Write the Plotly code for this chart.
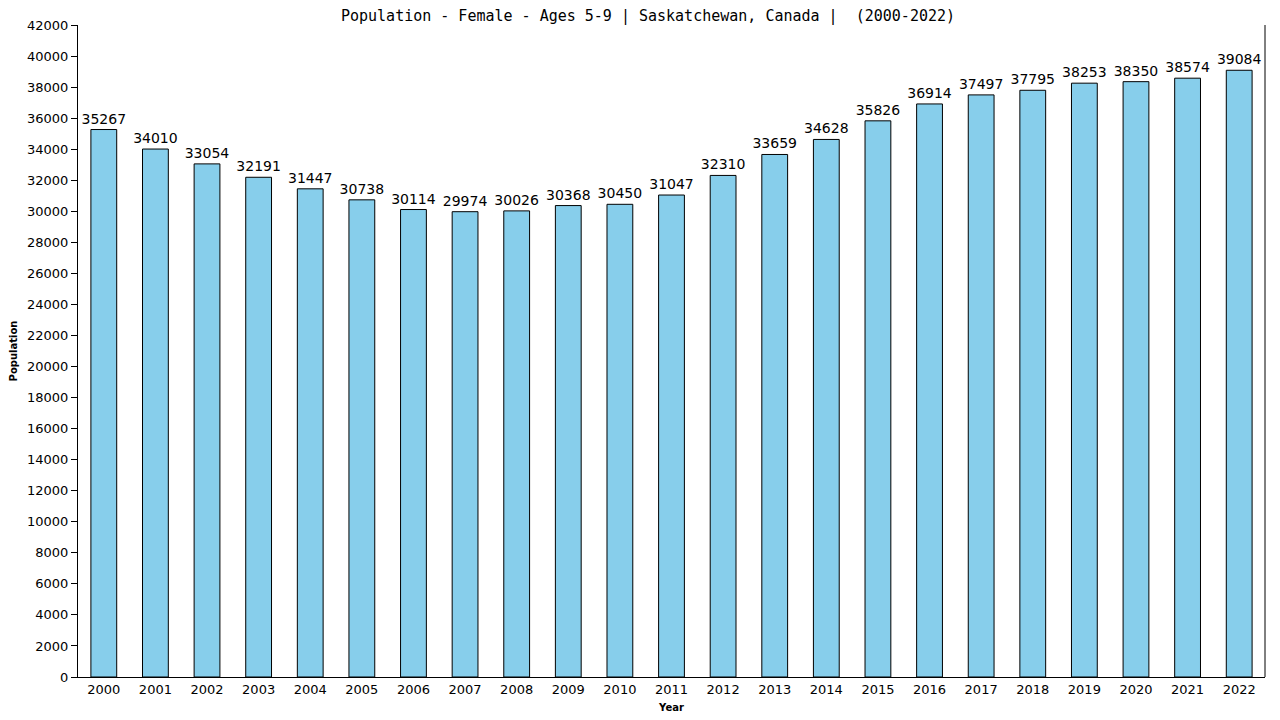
import plotly.graph_objects as go

years = [str(y) for y in range(2000, 2023)]
population = [35267, 34010, 33054, 32191, 31447, 30738, 30114, 29974, 30026, 30368,
              30450, 31047, 32310, 33659, 34628, 35826, 36914, 37497, 37795, 38253,
              38350, 38574, 39084]
y_ticks = list(range(0, 42001, 2000))

fig = go.Figure()
fig.add_trace(go.Bar(
    x=years, y=population,
    width=0.5,
    marker=dict(color='#87CEEB', line=dict(color='black', width=1)),
    text=[str(v) for v in population],
    textposition='outside',
    constraintext='none',
    textfont=dict(family='DejaVu Sans', size=14, color='black'),
    cliponaxis=False,
))

# page is drawn with an 8px offset, margins compensate for it
fig.update_layout(
    width=1280, height=720,
    margin=dict(l=70, r=23, t=17, b=51),
    plot_bgcolor='white', paper_bgcolor='white',
    title=dict(text='Population - Female - Ages 5-9 | Saskatchewan, Canada |  (2000-2022)',
               x=0.5, xanchor='center', y=0.996, yanchor='top', pad=dict(t=0),
               font=dict(family='DejaVu Sans Mono', size=15, color='black')),
    showlegend=False,
    uniformtext=dict(minsize=14, mode='show'),
)
fig.update_xaxes(
    showline=True, linecolor='black', linewidth=1, mirror=False, automargin=False,
    ticks='', tickfont=dict(family='DejaVu Sans', size=13, color='black'),
    title=dict(text='<b>Year</b>', font=dict(family='DejaVu Sans', size=10, color='black'), standoff=8),
)
fig.update_yaxes(
    range=[0, 42000], tickvals=y_ticks, ticktext=[str(v) for v in y_ticks],
    showline=True, linecolor='black', linewidth=1, automargin=False,
    ticks='outside', ticklen=6, tickcolor='black',
    showgrid=False, zeroline=False,
    tickfont=dict(family='DejaVu Sans', size=13, color='black'),
    title=dict(text='<b>Population</b>', font=dict(family='DejaVu Sans', size=10, color='black'), standoff=8),
)
# right border line
fig.add_shape(type='line', xref='paper', yref='paper', x0=1, x1=1, y0=0, y1=1,
              line=dict(color='black', width=1))

fig.write_html("out.html")
